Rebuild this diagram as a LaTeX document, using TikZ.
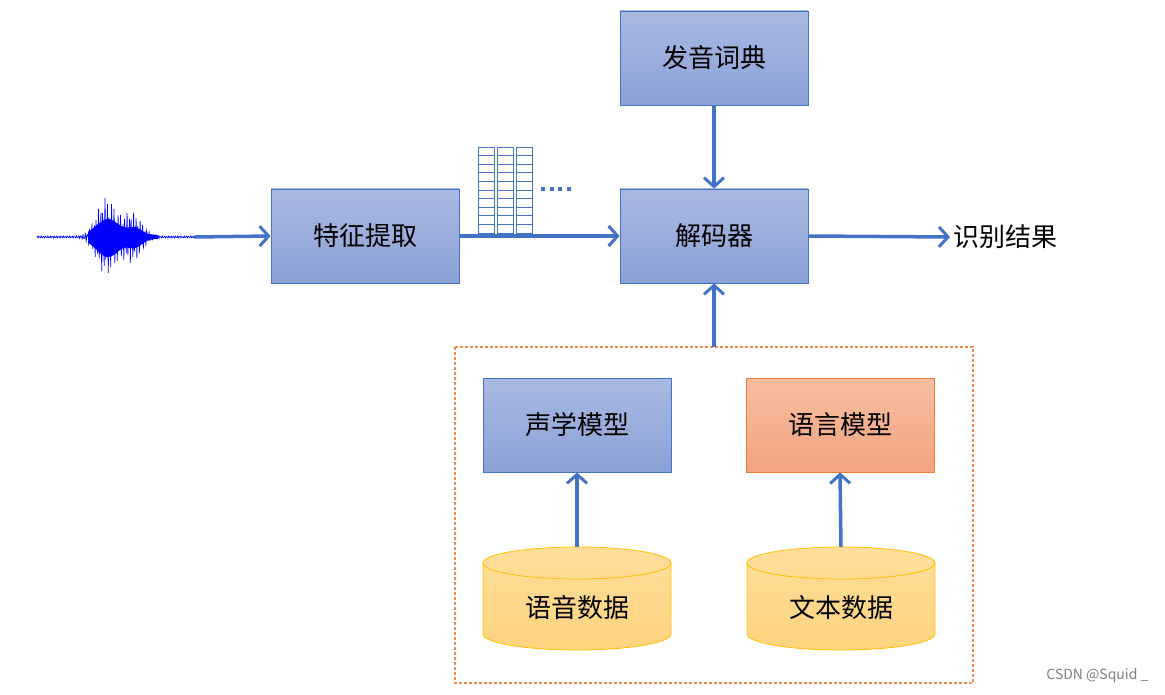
\documentclass[tikz,border=0pt]{standalone}
\usepackage{fontspec}
\setmainfont{Noto Sans CJK SC}
\usetikzlibrary{arrows.meta}
\definecolor{bl}{HTML}{4472C4}
\definecolor{btop}{HTML}{AAB9E1}
\definecolor{bbot}{HTML}{8AA1D7}
\definecolor{otop}{HTML}{F6BEA2}
\definecolor{obot}{HTML}{F3A37F}
\definecolor{ob}{HTML}{ED7D31}
\definecolor{dashc}{HTML}{F08A4B}
\definecolor{ctop}{HTML}{FFDE9A}
\definecolor{cbot}{HTML}{FDD37E}
\definecolor{cb}{HTML}{FFC000}
\begin{document}
\begin{tikzpicture}[x=1pt,y=-1pt,
 box/.style={draw=bl,line width=0.8pt,top color=btop,bottom color=bbot,minimum width=188pt,minimum height=94pt,inner sep=0pt,font=\fontsize{26}{26}\selectfont},
 obox/.style={box,draw=ob,top color=otop,bottom color=obot},
 arr/.style={draw=bl,line width=3.5pt,-{Straight Barb[length=9pt,width=20pt,line width=3pt]}},
 cyl/.style={draw=cb,line width=0.8pt,top color=ctop,bottom color=cbot},
 lab/.style={font=\fontsize{26}{26}\selectfont}]
\useasboundingbox (0,0) rectangle (1165,695);
\node[box] (dict) at (714,58) {发音词典};
\node[box] (dec) at (714,236) {解码器};
\node[box] (feat) at (365,236) {特征提取};
\node[box] (am) at (577,425) {声学模型};
\node[obox] (lm) at (840,425) {语言模型};
\node[lab,anchor=west] (res) at (950,237) {识别结果};
\draw[draw=dashc,dash pattern=on 3pt off 2pt,line width=1.2pt] (455,347) rectangle (973,683);
\coordinate (dtop) at (714,347);
\coordinate (wend) at (195,237);
% cylinders
\foreach \cx/\nm/\t in {577/sd/语音数据,841/td/文本数据}{
 \path[cyl] (\cx-94,563) -- (\cx-94,634) arc[start angle=180,end angle=360,x radius=94pt,y radius=16pt] -- (\cx+94,563) arc[start angle=0,end angle=180,x radius=94pt,y radius=16pt] -- cycle;
 \draw[cb,line width=0.8pt] (\cx-94,563) arc[start angle=180,end angle=360,x radius=94pt,y radius=16pt];
 \node[lab] (\nm) at (\cx,608) {\t};
 \coordinate (\nm top) at (\cx,547);
}
% waveform
\draw[blue,line width=0.6pt] plot[domain=37:195,samples=900]
 (\x,{237+(1.2+38*exp(-((\x-106)/13)^2)+24*exp(-((\x-132)/13)^2))*(0.6*sin(mod(\x,2.2)*163.6)+0.4*sin(mod(\x,1.3)*276.9))});
\fill[blue] plot[domain=88:158,samples=60] (\x,{237-(16*exp(-((\x-108)/16)^2)+7*exp(-((\x-135)/10)^2)+2)}) -- plot[domain=158:88,samples=60] (\x,{237+(18*exp(-((\x-108)/16)^2)+8*exp(-((\x-135)/10)^2)+2)}) -- cycle;
% feature matrix
\foreach \c in {478,497,516}{
 \foreach \r in {0,...,9}{
  \draw[bl,line width=0.6pt] (\c,147+\r*8.6) rectangle (\c+16,147+\r*8.6+8.6);
 }
}
\foreach \d in {0,1,2,3}{\fill[bl] (541+\d*8.5,187) rectangle (545+\d*8.5,191);}
% arrows
\draw[arr] (wend) -- (feat.west);
\draw[arr] (feat.east) -- (dec.west);
\draw[arr] (dec.east) -- (res.west);
\draw[arr] (dict.south) -- (dec.north);
\draw[arr] (dtop) -- (dec.south);
\draw[arr] (sdtop) -- (am.south);
\draw[arr] (tdtop) -- (lm.south);
\node[gray,font=\fontsize{14}{14}\selectfont,anchor=east] (wm) at (1152,676) {CSDN @Squid \_};
\end{tikzpicture}
\end{document}
